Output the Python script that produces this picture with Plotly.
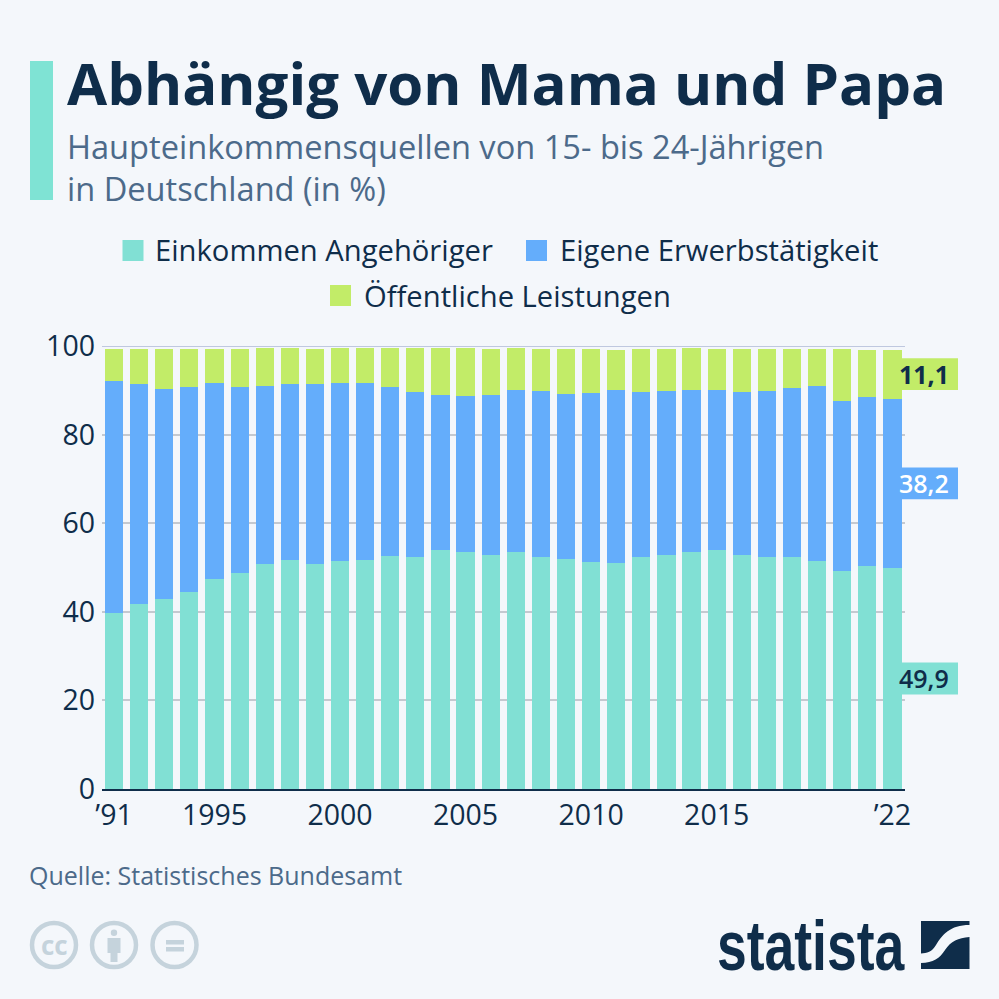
"""Stacked bars of main income sources of 15 to 24 year olds in Germany."""

import plotly.graph_objects as go


YEARS = list(range(1991, 2023))
ANGEHOERIGE = [39.7, 41.8, 43.0, 44.5, 47.5, 48.8, 50.9, 51.8, 50.9, 51.5, 51.7, 52.6, 52.3, 53.9, 53.5, 52.8,
               53.5, 52.3, 52.0, 51.3, 51.1, 52.4, 52.8, 53.5, 53.9, 52.8, 52.4, 52.4, 51.4, 49.3, 50.3, 49.9]
ERWERB = [52.3, 49.6, 47.4, 46.2, 44.1, 41.9, 40.1, 39.6, 40.5, 40.1, 40.0, 38.1, 37.4, 35.1, 35.3, 36.2,
          36.5, 37.5, 37.1, 38.0, 38.9, 37.2, 37.1, 36.5, 36.2, 36.8, 37.5, 38.1, 39.6, 38.2, 38.3, 38.2]
LEISTUNGEN = [7.3, 8.0, 9.0, 8.7, 7.8, 8.6, 8.5, 8.1, 8.0, 7.9, 7.9, 8.9, 9.8, 10.5, 10.7, 10.3,
              9.5, 9.5, 10.3, 10.1, 9.2, 9.8, 9.5, 9.5, 9.3, 9.8, 9.5, 8.9, 8.4, 11.8, 10.5, 11.1]
X_TICKS = [1991, 1995, 2000, 2005, 2010, 2015, 2022]
X_LABELS = ['’91', '1995', '2000', '2005', '2010', '2015', '’22']
Y_TICKS = [0, 20, 40, 60, 80, 100]

SIZE = 999
BG = '#F4F7FB'
DARK = '#0F2D4A'
MUTED = '#4C6A8A'
TEAL = '#81E0D4'
BLUE = '#64ADFB'
GREEN = '#C2EC68'
ICON = '#C5D3DC'
FONT = 'Open Sans'
BOX_HALF = 3.6  # half height of the end label boxes, in axis units

# the logo lettering is a tall condensed face, none is installed so stretch a bold one
POST_SCRIPT = f"""
document.body.style.margin = '0';
document.body.style.background = '{BG}';
document.querySelectorAll('.annotation-text').forEach(function (el) {{
    if (el.textContent === 'statista') {{
        el.style.transformBox = 'fill-box';
        el.style.transformOrigin = 'center';
        el.style.transform = 'scaleY(1.3)';
    }}
}});
"""


def fx(px):
    return px / SIZE


def fy(px):
    return 1 - px / SIZE


def rect(x0, y0, x1, y1, color):
    return dict(type='rect', xref='paper', yref='paper', x0=fx(x0), x1=fx(x1), y0=fy(y0), y1=fy(y1),
                fillcolor=color, line_width=0, layer='above')


def circle(cx, cy, r, fill, line_color=None, line_width=0):
    return dict(type='circle', xref='paper', yref='paper', x0=fx(cx - r), x1=fx(cx + r), y0=fy(cy + r), y1=fy(cy - r),
                fillcolor=fill, line=dict(color=line_color, width=line_width), layer='above')


def path(points, color):
    """Paper shape from an SVG-like list of commands in pixel coordinates."""
    parts = []
    for cmd, *xy in points:
        coords = [f'{fx(xy[i]):.5f},{fy(xy[i + 1]):.5f}' for i in range(0, len(xy), 2)]
        parts.append(cmd + ' '.join(coords))
    return dict(type='path', xref='paper', yref='paper', path=' '.join(parts) + ' Z',
                fillcolor=color, line_width=0, layer='above')


def text(x, y, label, size, color=DARK, anchor='left', family=FONT):
    return dict(xref='paper', yref='paper', x=fx(x), y=fy(y), text=label, showarrow=False, xanchor=anchor,
                yanchor='middle', align='left', font=dict(family=family, size=size, color=color))


def end_box(y, color):
    return dict(type='rect', xref='paper', yref='y', x0=fx(902), x1=fx(958), y0=y - BOX_HALF, y1=y + BOX_HALF,
                fillcolor=color, line_width=0, layer='above')


def end_label(value, y, color, weight):
    return dict(xref='paper', yref='y', x=fx(923.5), y=y, text=str(value).replace('.', ','), showarrow=False,
                xanchor='center', yanchor='middle', font=dict(family=FONT, size=25, color=color, weight=weight))


def build_figure():
    fig = go.Figure()
    for name, values, color in [('Einkommen Angehöriger', ANGEHOERIGE, TEAL),
                                ('Eigene Erwerbstätigkeit', ERWERB, BLUE),
                                ('Öffentliche Leistungen', LEISTUNGEN, GREEN)]:
        fig.add_trace(go.Bar(x=YEARS, y=values, name=name, width=0.725, marker=dict(color=color, line_width=0)))

    teal_mid = ANGEHOERIGE[-1] / 2
    blue_mid = ANGEHOERIGE[-1] + ERWERB[-1] / 2
    green_mid = ANGEHOERIGE[-1] + ERWERB[-1] + LEISTUNGEN[-1] / 2

    shapes = [
        rect(30, 61, 53, 200, '#7FE3D4'),
        rect(122.5, 240, 143.5, 261, TEAL),
        rect(526, 240, 547, 261, BLUE),
        rect(330, 285, 351, 306, GREEN),
        dict(type='line', xref='paper', yref='y', x0=fx(102), x1=fx(905), y0=100, y1=100,
             line=dict(color='#AEB9D6', width=1.5), layer='below'),
        end_box(green_mid, GREEN),
        end_box(blue_mid, BLUE),
        end_box(teal_mid, TEAL),
    ]
    # cc / by / nd badges
    for cx in (54, 114, 174.5):
        shapes.append(circle(cx, 945, 22, 'rgba(0,0,0,0)', ICON, 4.5))
    shapes += [
        circle(114, 932.7, 3.2, ICON),
        rect(107.5, 938, 120.5, 953, ICON),
        rect(110.5, 953, 117.5, 962, ICON),
        rect(166, 940, 184, 944.5, ICON),
        rect(166, 947, 184, 951.5, ICON),
    ]
    # statista mark
    shapes += [
        path([('M', 921, 921), ('L', 969.5, 921), ('L', 969.5, 925),
              ('C', 950, 925, 942, 935, 936, 945), ('C', 932, 952, 927, 953, 921, 953.5)], DARK),
        path([('M', 969.5, 937), ('L', 969.5, 969), ('L', 921, 969), ('L', 921, 963),
              ('C', 933, 963, 940, 958, 945, 950), ('C', 951, 941, 958, 938, 969.5, 937)], DARK),
    ]

    annotations = [
        text(64.5, 168, 'Haupteinkommensquellen von 15- bis 24-Jährigen<br>in Deutschland (in %)', 32.6, MUTED),
        text(153, 250, 'Einkommen Angehöriger', 29.2),
        text(558, 250, 'Eigene Erwerbstätigkeit', 29.2),
        text(362, 296, 'Öffentliche Leistungen', 29.2),
        text(27, 875, 'Quelle: Statistisches Bundesamt', 25, MUTED),
        text(54, 945, '<b>cc</b>', 26, ICON, anchor='center'),
        text(908, 945, '<b>statista</b>', 53.5, DARK, anchor='right', family='Liberation Sans'),
        end_label(LEISTUNGEN[-1], green_mid, DARK, 700),
        end_label(ERWERB[-1], blue_mid, 'white', 600),
        end_label(ANGEHOERIGE[-1], teal_mid, DARK, 600),
    ]

    fig.update_layout(
        barmode='stack',
        width=SIZE,
        height=SIZE,
        margin=dict(l=0, r=0, t=0, b=0),
        paper_bgcolor=BG,
        plot_bgcolor=BG,
        showlegend=False,
        title=dict(text='<b>Abhängig von Mama und Papa</b>', x=fx(67), xref='paper', xanchor='left',
                   y=fy(85), yref='paper', yanchor='middle', automargin=False,
                   font=dict(family=FONT, size=58.2, color=DARK)),
        xaxis=dict(domain=[fx(102), fx(905)], range=[1990.52, 2022.5], tickmode='array', tickvals=X_TICKS,
                   ticktext=X_LABELS, showgrid=False, showline=True, linecolor=DARK, linewidth=2, ticks='',
                   automargin=False, tickfont=dict(family=FONT, size=28.5, color=DARK)),
        yaxis=dict(domain=[fy(789), fy(346)], range=[0, 100], tickmode='array', tickvals=Y_TICKS,
                   gridcolor='#C4C9D0', gridwidth=1.5, zeroline=False, ticks='', ticklabelstandoff=6,
                   automargin=False, tickfont=dict(family=FONT, size=28.5, color=DARK)),
        shapes=shapes,
        annotations=annotations,
    )
    return fig


def main():
    fig = build_figure()
    fig.write_html('out.html', config=dict(displayModeBar=False), post_script=POST_SCRIPT)


if __name__ == '__main__':
    main()
